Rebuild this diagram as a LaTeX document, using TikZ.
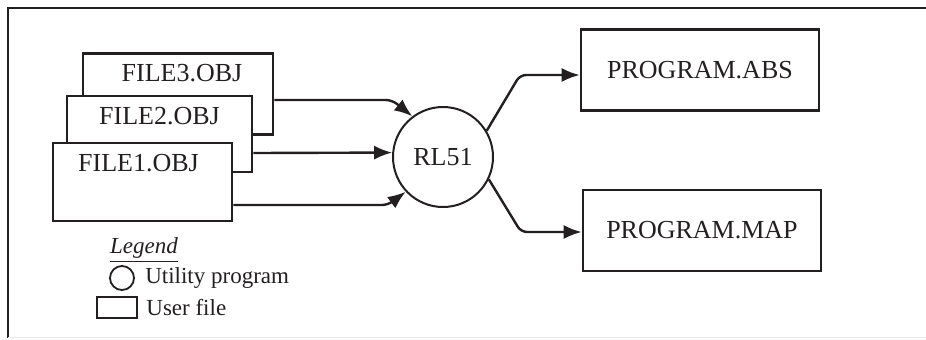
\documentclass[tikz,border=0pt]{standalone}
\usepackage{fontspec}
\setmainfont{Liberation Serif}
\usetikzlibrary{arrows.meta,positioning}

\definecolor{ink}{HTML}{231F20}

\begin{document}
\begin{tikzpicture}[
    x=0.5pt, y=-0.5pt,
    file/.style={rectangle, draw=ink, line width=1.3pt, fill=white, minimum width=#1, minimum height=40.5pt, inner sep=0pt, font=\fontsize{13}{15}\selectfont, text=ink},
    file/.default=95pt,
    ftitle/.style={font=\fontsize{13}{15}\selectfont, text=ink, anchor=north, inner sep=0pt, yshift=-6pt},
    util/.style={circle, draw=ink, line width=1pt, minimum size=50pt, inner sep=0pt, font=\fontsize{13}{15}\selectfont, text=ink},
    arr/.style={-{Latex[length=9pt,width=7pt]}, line width=1.2pt, draw=ink, rounded corners=3pt},
    legtext/.style={font=\fontsize{11.5}{13}\selectfont, text=ink, inner sep=0pt, anchor=west}
]
    \useasboundingbox (0,0) rectangle (926,339);

    % Frame
    \draw[ink, line width=1.3pt] (926,8) -- (8,8) -- (8,338);
    \draw[black!8, line width=0.5pt] (8,337.5) -- (926,337.5);

    % Input object files (back to front)
    \node[file=95pt, label={[ftitle, xshift=2pt]north:FILE3.OBJ}] (f3) at (178,94) {};
    \node[file=92.5pt, minimum height=38pt, label={[ftitle]north:FILE2.OBJ}] (f2) at (159.5,134) {};
    \node[file=89.5pt, minimum height=39pt, label={[ftitle, xshift=-2pt]north:FILE1.OBJ}] (f1) at (142.5,182) {};

    % Utility
    \node[util] (rl) at (443,157) {RL51};

    % Output files
    \node[file=119pt] (abs) at (700,70) {PROGRAM.ABS};
    \node[file=119pt] (map) at (702,230.5) {PROGRAM.MAP};

    % Inputs to RL51
    \draw[arr] (f3.east |- 0,100) -- (392,100) -- (rl.127);
    \draw[arr] (f2.east |- 0,153) -- (rl.175);
    \draw[arr] (f1.east |- 0,205) -- (388,205) -- (rl.223);

    % RL51 to outputs
    \draw[arr] (rl.31) -- (520,75) -- (abs.west |- 0,75);
    \draw[arr] (rl.334) -- (521,232) -- (map.west |- 0,232);

    % Legend
    \node[legtext, anchor=center] (leg) at (144,250) {\underline{\textit{Legend}}};
    \node[circle, draw=ink, line width=0.9pt, minimum size=12pt, inner sep=0pt] (legc) at (122,278) {};
    \node[legtext, right=5pt of legc] (legct) {Utility program};
    \node[rectangle, draw=ink, line width=1pt, minimum width=20pt, minimum height=10.5pt, inner sep=0pt] (legr) at (117,307.5) {};
    \node[legtext, right=4pt of legr] (legrt) {User file};

\end{tikzpicture}
\end{document}
